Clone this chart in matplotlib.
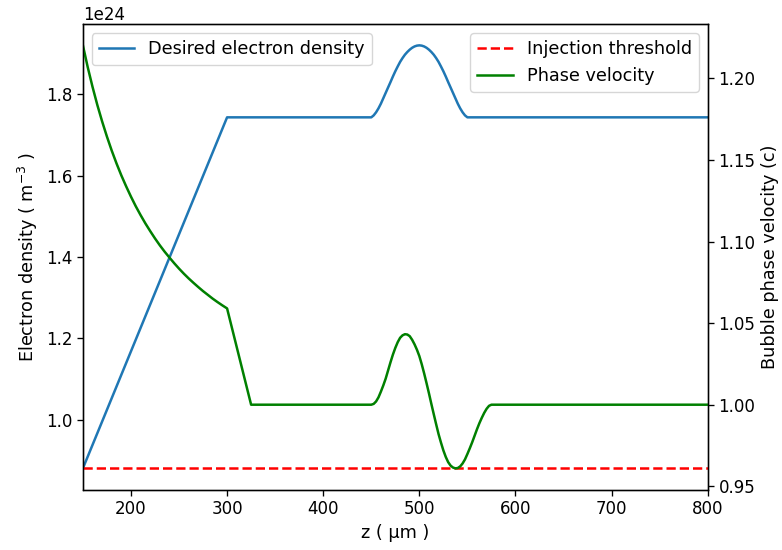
import matplotlib
matplotlib.use("Agg")
import matplotlib.pyplot as plt
import numpy as np

# Desired electron density (units of 1e24 m^-3)
z_density = [150, 300, 450, 452.5, 455, 457.5, 460, 462.5, 465, 467.5, 470, 472.5,
             475, 477.5, 480, 482.5, 485, 487.5, 490, 492.5, 495, 497.5, 500,
             502.5, 505, 507.5, 510, 512.5, 515, 517.5, 520, 522.5, 525, 527.5,
             530, 532.5, 535, 537.5, 540, 542.5, 545, 547.5, 550, 800]
density = [0.880, 1.743, 1.7430, 1.7478, 1.7554, 1.7651, 1.7766, 1.7899, 1.8032,
           1.8165, 1.8297, 1.8434, 1.8563, 1.8681, 1.8793, 1.8887, 1.8970, 1.9037,
           1.9094, 1.9140, 1.9173, 1.9193, 1.9200, 1.9193, 1.9173, 1.9140, 1.9094,
           1.9037, 1.8970, 1.8887, 1.8793, 1.8681, 1.8563, 1.8434, 1.8297, 1.8165,
           1.8032, 1.7899, 1.7766, 1.7651, 1.7554, 1.7478, 1.7430, 1.7430]

# Bubble phase velocity (units of c)
z_phase = [150, 155, 160, 165, 170, 175, 180, 185, 190, 195, 200, 205, 210, 215,
           220, 225, 230, 235, 240, 245, 250, 255, 260, 265, 270, 275, 280, 285,
           290, 295, 300, 325, 450, 452.5, 455, 457.5, 460, 462.5, 465, 467.5,
           470, 472.5, 475, 477.5, 480, 482.5, 485, 487.5, 490, 492.5, 495, 497.5,
           500, 502.5, 505, 507.5, 510, 512.5, 515, 517.5, 520, 522.5, 525, 527.5,
           530, 532.5, 535, 537.5, 540, 542.5, 545, 547.5, 550, 552.5, 555, 557.5,
           560, 562.5, 565, 567.5, 570, 572.5, 575, 800]
phase = [1.2202, 1.2069, 1.1948, 1.1837, 1.1736, 1.1643, 1.1557, 1.1478, 1.1405,
         1.1338, 1.1275, 1.1216, 1.1162, 1.1111, 1.1064, 1.1019, 1.0977, 1.0938,
         1.0902, 1.0867, 1.0834, 1.0803, 1.0774, 1.0747, 1.0721, 1.0696, 1.0673,
         1.0650, 1.0629, 1.0609, 1.0590, 1.0000, 1.0000, 1.0005, 1.0020, 1.0045,
         1.0080, 1.0118, 1.0160, 1.0210, 1.0260, 1.0307, 1.0348, 1.0383, 1.0410,
         1.0425, 1.0432, 1.0430, 1.0420, 1.0398, 1.0370, 1.0337, 1.0298, 1.0248,
         1.0192, 1.0132, 1.0070, 1.0005, 0.9942, 0.9880, 0.9820, 0.9768, 0.9720,
         0.9680, 0.9648, 0.9627, 0.9615, 0.9610, 0.9612, 0.9622, 0.9640, 0.9665,
         0.9698, 0.9733, 0.9770, 0.9810, 0.9850, 0.9887, 0.9920, 0.9950, 0.9975,
         0.9993, 1.0000, 1.0000]

# Injection threshold
z_threshold = [150, 800]
threshold = [0.9610, 0.9610]

plt.rcParams.update({
    'font.size': 12.7,
    'xtick.labelsize': 12,
    'ytick.labelsize': 12,
    'lines.linewidth': 1.8,
    'axes.linewidth': 0.96,
    'xtick.major.size': 4.2,
    'ytick.major.size': 4.2,
    'xtick.major.width': 0.96,
    'ytick.major.width': 0.96,
})

fig, ax = plt.subplots(figsize=(7.82, 5.5), dpi=100)
fig.subplots_adjust(left=0.106, right=0.905, top=0.956, bottom=0.110)

ax.plot(z_density, np.array(density) * 1e24, color='#1f77b4', label='Desired electron density')
ax.set_xlim(150, 800)
ax.set_xlabel('z ( μm )')
ax.set_ylabel('Electron density ( m$^{-3}$ )')
ax.legend(loc='upper left')

ax2 = ax.twinx()
ax2.plot(z_threshold, threshold, 'r--', label='Injection threshold')
ax2.plot(z_phase, phase, color='green', label='Phase velocity')
ax2.set_ylabel('Bubble phase velocity (c)')
ax2.set_xlim(150, 800)
ax2.legend(loc='upper right')

fig.savefig('out.png', dpi=100)
